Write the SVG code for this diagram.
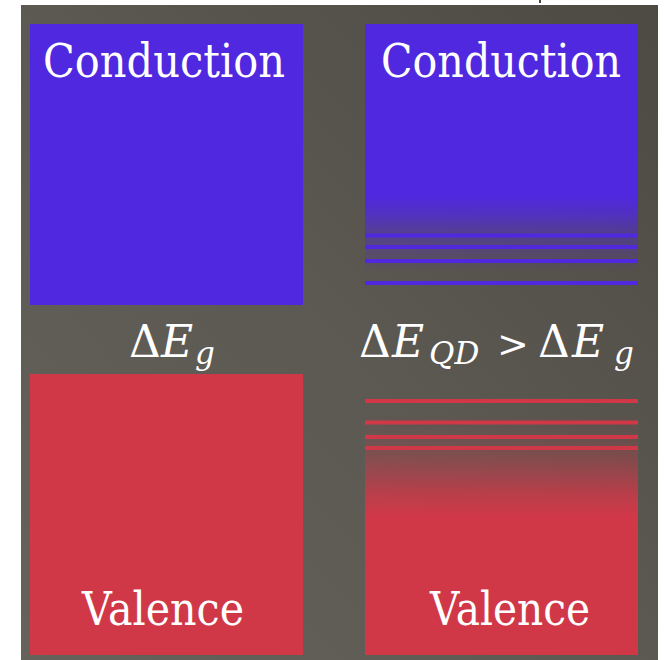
<svg xmlns="http://www.w3.org/2000/svg" width="664" height="660" viewBox="0 0 664 660">
  <defs>
    <linearGradient id="bg" x1="0" y1="1" x2="1" y2="0">
      <stop offset="0" stop-color="#65615b"/>
      <stop offset="0.5" stop-color="#5c5852"/>
      <stop offset="1" stop-color="#4d4943"/>
    </linearGradient>
    <linearGradient id="blueFade" gradientUnits="userSpaceOnUse" x1="0" y1="24" x2="0" y2="272">
      <stop offset="0" stop-color="#5028e0" stop-opacity="1"/>
      <stop offset="0.69" stop-color="#5028e0" stop-opacity="1"/>
      <stop offset="0.77" stop-color="#5028e0" stop-opacity="0.78"/>
      <stop offset="0.83" stop-color="#5028e0" stop-opacity="0.52"/>
      <stop offset="0.89" stop-color="#5028e0" stop-opacity="0.32"/>
      <stop offset="0.95" stop-color="#5028e0" stop-opacity="0.12"/>
      <stop offset="1" stop-color="#5028e0" stop-opacity="0"/>
    </linearGradient>
    <linearGradient id="redFade" gradientUnits="userSpaceOnUse" x1="0" y1="415" x2="0" y2="655">
      <stop offset="0" stop-color="#d03848" stop-opacity="0"/>
      <stop offset="0.1" stop-color="#d03848" stop-opacity="0.12"/>
      <stop offset="0.2" stop-color="#d03848" stop-opacity="0.4"/>
      <stop offset="0.33" stop-color="#d03848" stop-opacity="0.8"/>
      <stop offset="0.42" stop-color="#d03848" stop-opacity="1"/>
      <stop offset="1" stop-color="#d03848" stop-opacity="1"/>
    </linearGradient>
  </defs>
  <style>
    .blue { fill: #5028e0; }
    .red { fill: #d03848; }
    text { font-family: 'DejaVu Serif', serif; fill: #ffffff; }
    .lbl { font-size: 46px; }
    .math { font-size: 44px; }
    .it { font-style: italic; }
    .sub { font-style: italic; font-size: 31px; }
    .gt { font-size: 38px; }
    .bline { fill: #5028e0; }
    .rline { fill: #d03848; }
  </style>
  <rect x="0" y="0" width="664" height="660" fill="#ffffff"/>
  <rect id="background" x="21" y="5" width="637" height="655" fill="url(#bg)"/>
  <rect x="539" y="0" width="2" height="3" fill="#4a4640"/>

  <g id="bulk-conduction">
    <rect class="blue" x="30" y="24" width="273" height="281"/>
    <text class="lbl" x="43" y="77" textLength="242" lengthAdjust="spacingAndGlyphs">Conduction</text>
  </g>
  <g id="bulk-gap">
    <text class="math" x="129" y="357">Δ<tspan class="it" x="161">E</tspan><tspan class="sub" x="195" y="364">g</tspan></text>
  </g>
  <g id="bulk-valence">
    <rect class="red" x="30" y="374" width="273" height="281"/>
    <text class="lbl" x="82" y="625" textLength="162" lengthAdjust="spacingAndGlyphs">Valence</text>
  </g>

  <g id="qd-conduction">
    <rect x="365" y="24" width="273" height="248" fill="url(#blueFade)"/>
    <rect class="bline" x="365" y="233.5" width="273" height="4"/>
    <rect class="bline" x="365" y="245" width="273" height="4"/>
    <rect class="bline" x="365" y="259" width="273" height="4"/>
    <rect class="bline" x="365" y="281" width="273" height="4"/>
    <text class="lbl" x="381" y="77" textLength="240" lengthAdjust="spacingAndGlyphs">Conduction</text>
  </g>
  <g id="qd-gap">
    <text class="math" x="359" y="357">Δ<tspan class="it" x="392">E</tspan><tspan class="sub" x="429" y="364">QD</tspan><tspan class="gt" x="497" y="357">&gt;</tspan><tspan x="538">Δ</tspan><tspan class="it" x="572">E</tspan><tspan class="sub" x="614" y="364">g</tspan></text>
  </g>
  <g id="qd-valence">
    <rect x="365" y="415" width="273" height="240" fill="url(#redFade)"/>
    <rect class="rline" x="365" y="399" width="273" height="4"/>
    <rect class="rline" x="365" y="420.5" width="273" height="4"/>
    <rect class="rline" x="365" y="435" width="273" height="4"/>
    <rect class="rline" x="365" y="446" width="273" height="4"/>
    <text class="lbl" x="430" y="625" textLength="160" lengthAdjust="spacingAndGlyphs">Valence</text>
  </g>
  <g id="connectors"/>
</svg>
